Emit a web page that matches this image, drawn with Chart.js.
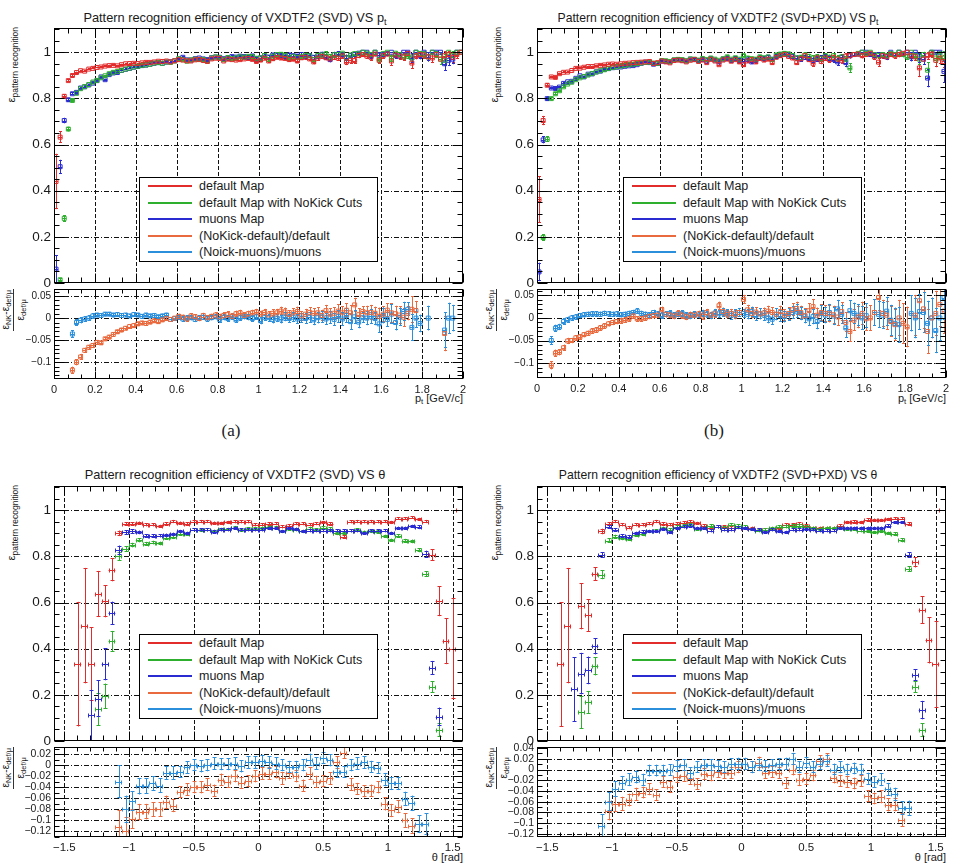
<!DOCTYPE html>
<html>
<head>
<meta charset="utf-8">
<title>VXDTF2 pattern recognition efficiency</title>
<script src="https://cdn.jsdelivr.net/npm/chart.js@4.4.1/dist/chart.umd.min.js"></script>
<style>
  body { margin: 0; background: #fff; }
  #page { position: relative; width: 967px; height: 867px; overflow: hidden; background: #fff;
          font-family: "Liberation Sans", Arial, sans-serif; color: #1a1a1a; }
  canvas { position: absolute; z-index: 1; }
  sub { font-size: 72%; vertical-align: -0.3em; line-height: 0; }
  .title { position: absolute; font-size: 12.5px; line-height: 16px; white-space: nowrap; transform: translateX(-50%); }
  .ytitle { position: absolute; width: 200px; text-align: right; transform-origin: 0 0; transform: rotate(-90deg);
            white-space: nowrap; font-size: 11.5px; line-height: 14px; }
  .ytitle sub { font-size: 8.5px; }
  .rtitle { position: absolute; width: 120px; text-align: right; transform-origin: 0 0; transform: rotate(-90deg);
            white-space: nowrap; font-size: 10px; line-height: 1; }
  .rtitle sub { font-size: 7.5px; }
  .frac { display: inline-flex; flex-direction: column; align-items: center; vertical-align: top; }
  .frac .num { border-bottom: 1px solid #333; padding: 0 1px 2px; }
  .frac .den { padding-top: 2px; }
  .xtitle { position: absolute; font-size: 11px; line-height: 14px; white-space: nowrap; transform: translateX(-100%); }
  .caption { position: absolute; font-family: "Liberation Serif", "DejaVu Serif", serif; font-size: 17px;
             transform: translateX(-50%); }
  .legend { position: absolute; border: 1px solid #000; background: #fff; box-sizing: border-box; z-index: 5; }
  .legend .swatch { position: absolute; left: 8px; width: 44px; height: 2px; }
  .legend .lbl { position: absolute; left: 59px; line-height: 16px; font-size: 12.5px; white-space: nowrap; }
</style>
</head>
<body>
<div id="page"></div>
<script>
// Legend labels and colours
const seriesLabels = ['default Map', 'default Map with NoKick Cuts', 'muons Map',
                      '(NoKick-default)/default', '(Noick-muons)/muons'];
const seriesColors = ['#e22b2b', '#2eb02e', '#2b2bd2', '#e96a3e', '#2b8fdc'];

// Binning (histogram definitions)
const ptRange = [0, 2], ptBins = 100;
const thRange = [-1.58, 1.58], thBins = 60;

// ---------- p_t, SVD only ----------
const ptRedSvd = [
  0.44, 0.632, 0.809, 0.877, 0.899, 0.912, 0.92, 0.918, 0.927, 0.93,
  0.934, 0.936, 0.94, 0.942, 0.943, 0.941, 0.946, 0.95, 0.951, 0.952,
  0.951, 0.954, 0.956, 0.956, 0.958, 0.961, 0.96, 0.962, 0.958, 0.963,
  0.968, 0.966, 0.963, 0.962, 0.967, 0.969, 0.964, 0.96, 0.971, 0.974,
  0.973, 0.962, 0.97, 0.968, 0.966, 0.968, 0.971, 0.973, 0.969, 0.96,
  0.966, 0.974, 0.962, 0.972, 0.978, 0.975, 0.973, 0.968, 0.97, 0.962,
  0.976, 0.978, 0.971, 0.958, 0.974, 0.982, 0.976, 0.971, 0.978, 0.974,
  0.984, 0.958, 0.965, 0.964, 0.986, 0.99, 0.983, 0.978, 0.992, 0.965,
  0.985, 0.992, 0.962, 0.988, 0.983, 0.979, 0.995, 0.953, 0.985, 0.99,
  0.988, 0.98, 0.975, 0.99, 0.97, 0.985, 0.99, 0.978, 0.99, 1.0
];
const ptRedSvdErr = [
  0.12, 0.025, 0.009, 0.006, 0.005, 0.004, 0.004, 0.004, 0.004, 0.004,
  0.004, 0.004, 0.004, 0.004, 0.004, 0.004, 0.004, 0.004, 0.004, 0.004,
  0.004, 0.004, 0.004, 0.004, 0.004, 0.004, 0.004, 0.004, 0.004, 0.004,
  0.004, 0.004, 0.005, 0.005, 0.005, 0.005, 0.005, 0.005, 0.005, 0.005,
  0.005, 0.006, 0.006, 0.006, 0.006, 0.006, 0.006, 0.006, 0.007, 0.007,
  0.007, 0.007, 0.008, 0.008, 0.008, 0.008, 0.008, 0.009, 0.009, 0.009,
  0.009, 0.01, 0.01, 0.01, 0.011, 0.011, 0.011, 0.012, 0.012, 0.012,
  0.013, 0.014, 0.015, 0.014, 0.012, 0.01, 0.012, 0.014, 0.01, 0.016,
  0.013, 0.01, 0.02, 0.014, 0.015, 0.016, 0.01, 0.025, 0.016, 0.014,
  0.016, 0.02, 0.022, 0.015, 0.024, 0.02, 0.016, 0.025, 0.018, 0
];
const ptGreenSvd = [
  null, 0.014, 0.28, 0.667, 0.791, 0.822, 0.842, 0.851, 0.86, 0.871,
  0.878, 0.889, 0.898, 0.907, 0.913, 0.917, 0.922, 0.927, 0.931, 0.936,
  0.939, 0.943, 0.945, 0.948, 0.953, 0.955, 0.952, 0.958, 0.956, 0.962,
  0.972, 0.968, 0.961, 0.967, 0.97, 0.968, 0.969, 0.961, 0.975, 0.98,
  0.976, 0.968, 0.977, 0.972, 0.976, 0.98, 0.978, 0.982, 0.981, 0.974,
  0.975, 0.986, 0.969, 0.983, 0.99, 0.991, 0.987, 0.976, 0.982, 0.977,
  0.981, 0.987, 0.984, 0.968, 0.986, 0.988, 0.993, 0.98, 0.989, 0.99,
  0.996, 0.975, 0.988, 0.994, 0.993, 1.0, 0.996, 0.99, 1.0, 0.97,
  0.994, 1.0, 0.974, 0.996, 0.99, 0.98, 0.983, 0.975, 1.0, 0.995,
  0.99, 0.98, 1.0, 0.99, 0.97, 0.965, 1.0, 0.985, 1.0, 1.0
];
const ptGreenSvdErr = [
  0, 0.008, 0.014, 0.01, 0.007, 0.005, 0.005, 0.005, 0.004, 0.004,
  0.004, 0.004, 0.004, 0.004, 0.004, 0.004, 0.004, 0.004, 0.004, 0.004,
  0.004, 0.004, 0.004, 0.004, 0.004, 0.004, 0.004, 0.004, 0.004, 0.004,
  0.004, 0.004, 0.005, 0.005, 0.005, 0.005, 0.005, 0.005, 0.005, 0.005,
  0.005, 0.006, 0.006, 0.006, 0.006, 0.006, 0.006, 0.006, 0.007, 0.007,
  0.007, 0.007, 0.008, 0.008, 0.008, 0.008, 0.008, 0.009, 0.009, 0.009,
  0.009, 0.01, 0.01, 0.01, 0.011, 0.011, 0.011, 0.012, 0.012, 0.012,
  0.006, 0.014, 0.01, 0.007, 0.008, 0, 0.006, 0.01, 0, 0.018,
  0.008, 0, 0.016, 0.007, 0.01, 0.014, 0.013, 0.018, 0, 0.01,
  0.014, 0.02, 0, 0.016, 0.025, 0.026, 0, 0.02, 0, 0
];
const ptBlueSvd = [
  0.06, 0.504, 0.704, 0.794, 0.82, 0.826, 0.845, 0.85, 0.858, 0.866,
  0.877, 0.893, 0.881, 0.903, 0.91, 0.912, 0.921, 0.926, 0.93, 0.935,
  0.938, 0.942, 0.944, 0.948, 0.952, 0.955, 0.952, 0.957, 0.959, 0.963,
  0.971, 0.978, 0.967, 0.966, 0.972, 0.975, 0.971, 0.968, 0.976, 0.979,
  0.978, 0.972, 0.975, 0.981, 0.979, 0.983, 0.981, 0.978, 0.984, 0.972,
  0.976, 0.985, 0.979, 0.988, 0.99, 0.986, 0.98, 0.988, 0.985, 0.983,
  0.99, 0.982, 0.986, 0.978, 0.984, 0.991, 0.978, 0.968, 0.99, 0.992,
  0.988, 0.975, 0.985, 0.99, 0.996, 1.0, 1.0, 0.984, 1.0, 0.987,
  0.99, 0.994, 1.0, 0.985, 0.984, 1.0, 1.0, 0.975, 1.0, 0.984,
  1.0, 0.98, 1.0, 1.0, 1.0, 0.95, 0.965, 0.97, 1.0, 1.0
];
const ptBlueSvdErr = [
  0.06, 0.03, 0.012, 0.008, 0.006, 0.005, 0.005, 0.005, 0.004, 0.004,
  0.004, 0.004, 0.004, 0.004, 0.004, 0.004, 0.004, 0.004, 0.004, 0.004,
  0.004, 0.004, 0.004, 0.004, 0.004, 0.004, 0.004, 0.004, 0.004, 0.004,
  0.004, 0.004, 0.005, 0.005, 0.005, 0.005, 0.005, 0.005, 0.005, 0.005,
  0.005, 0.006, 0.006, 0.006, 0.006, 0.006, 0.006, 0.006, 0.007, 0.007,
  0.007, 0.007, 0.008, 0.008, 0.008, 0.008, 0.008, 0.009, 0.009, 0.009,
  0.009, 0.01, 0.01, 0.01, 0.011, 0.011, 0.011, 0.012, 0.012, 0.012,
  0.01, 0.015, 0.012, 0.01, 0.006, 0, 0, 0.012, 0, 0.012,
  0.01, 0.008, 0, 0.013, 0.014, 0, 0, 0.02, 0, 0.015,
  0, 0.02, 0, 0, 0, 0.03, 0.025, 0.022, 0, 0
];
const ptOrangeSvd = [
  null, null, null, null, -0.118, -0.1, -0.088, -0.073, -0.066, -0.062,
  -0.055, -0.056, -0.047, -0.043, -0.037, -0.031, -0.027, -0.023, -0.019, -0.017,
  -0.013, -0.011, -0.012, -0.009, -0.006, -0.008, -0.004, -0.001, -0.003, 0.0,
  0.004, 0.002, -0.002, 0.005, 0.003, -0.001, 0.006, 0.001, 0.004, 0.007,
  0.003, 0.006, 0.008, 0.004, 0.01, 0.012, 0.006, 0.01, 0.012, 0.014,
  0.009, 0.013, 0.007, 0.011, 0.012, 0.016, 0.014, 0.008, 0.012, 0.015,
  0.005, 0.009, 0.013, 0.011, 0.012, 0.006, 0.017, 0.009, 0.011, 0.016,
  0.012, 0.018, 0.012, 0.03, 0.008, 0.015, 0.012, 0.013, 0.011, 0.004,
  0.009, 0.018, 0.012, 0.01, 0.007, 0.002, 0.011, 0.02, 0.017, null,
  null, null, null, null, null, -0.035, null, null, null, null
];
const ptSkySvd = [
  null, null, null, null, -0.036, -0.01, -0.005, -0.002, 0.0, 0.005,
  0.007, 0.006, 0.009, 0.009, 0.007, 0.008, 0.006, 0.007, 0.005, 0.008,
  0.007, 0.004, 0.007, 0.005, 0.006, 0.003, 0.005, 0.007, -0.003, -0.001,
  0.002, -0.002, 0.0, 0.001, -0.003, 0.0, 0.002, -0.002, 0.001, 0.003,
  -0.003, 0.002, -0.001, 0.003, -0.004, 0.001, 0.004, 0.002, -0.001, 0.003,
  -0.006, 0.002, 0.001, -0.003, 0.0, -0.002, 0.003, -0.001, 0.002, -0.002,
  0.0, -0.001, 0.002, -0.004, 0.001, 0.003, -0.002, 0.001, -0.003, 0.004,
  -0.002, 0.006, -0.008, 0.003, -0.009, 0.001, 0.0, 0.004, -0.001, -0.013,
  0.006, -0.003, 0.009, -0.01, 0.002, 0.015, 0.02, -0.021, 0.0, -0.012,
  null, 0.0, null, null, null, -0.027, 0.0, 0.0, null, null
];
const ptRatioSvdErr = [
  0, 0, 0, 0, 0.008, 0.007, 0.007, 0.006, 0.006, 0.006,
  0.005, 0.005, 0.005, 0.005, 0.005, 0.005, 0.005, 0.005, 0.005, 0.005,
  0.005, 0.005, 0.005, 0.005, 0.005, 0.005, 0.005, 0.005, 0.005, 0.005,
  0.006, 0.006, 0.006, 0.006, 0.006, 0.006, 0.006, 0.006, 0.006, 0.006,
  0.007, 0.007, 0.007, 0.007, 0.007, 0.007, 0.007, 0.007, 0.007, 0.007,
  0.008, 0.008, 0.009, 0.009, 0.009, 0.01, 0.01, 0.01, 0.011, 0.011,
  0.011, 0.012, 0.012, 0.012, 0.013, 0.013, 0.013, 0.014, 0.014, 0.015,
  0.015, 0.016, 0.018, 0.016, 0.014, 0.012, 0.016, 0.017, 0.015, 0.02,
  0.018, 0.016, 0.022, 0.018, 0.02, 0.022, 0.016, 0.03, 0.022, 0.02,
  0.025, 0.028, 0.03, 0.025, 0.03, 0.04, 0.035, 0.03, 0.03, 0.035
];

// ---------- p_t, SVD+PXD ----------
const ptRedFull = [
  0.362, 0.704, 0.857, 0.893, 0.891, 0.907, 0.913, 0.914, 0.921, 0.93,
  0.931, 0.935, 0.938, 0.938, 0.941, 0.943, 0.945, 0.948, 0.949, 0.948,
  0.95, 0.952, 0.953, 0.955, 0.956, 0.957, 0.958, 0.96, 0.951, 0.955,
  0.962, 0.958, 0.954, 0.964, 0.966, 0.963, 0.958, 0.965, 0.968, 0.96,
  0.966, 0.955, 0.969, 0.962, 0.946, 0.966, 0.97, 0.961, 0.968, 0.958,
  0.946, 0.962, 0.968, 0.958, 0.973, 0.966, 0.97, 0.955, 0.978, 0.985,
  0.99, 0.982, 0.975, 0.955, 0.972, 0.985, 0.968, 0.952, 0.975, 0.96,
  0.975, 0.968, 0.978, 0.97, 0.965, 0.983, 0.985, 0.99, 0.992, 0.985,
  0.99, 0.995, 0.98, 0.957, 0.985, 0.98, 0.99, 0.985, 0.99, 0.995,
  1.0, 0.985, 0.98, 0.932, 0.97, 0.985, 0.99, 0.965, 0.975, 0.96
];
const ptRedFullErr = [
  0.1, 0.02, 0.008, 0.005, 0.005, 0.004, 0.004, 0.004, 0.004, 0.004,
  0.004, 0.004, 0.004, 0.004, 0.004, 0.004, 0.004, 0.004, 0.004, 0.004,
  0.004, 0.004, 0.004, 0.004, 0.004, 0.004, 0.004, 0.004, 0.004, 0.004,
  0.004, 0.004, 0.005, 0.005, 0.005, 0.005, 0.005, 0.005, 0.005, 0.005,
  0.005, 0.006, 0.006, 0.006, 0.006, 0.006, 0.006, 0.006, 0.007, 0.007,
  0.01, 0.007, 0.008, 0.008, 0.008, 0.008, 0.008, 0.009, 0.009, 0.009,
  0.009, 0.01, 0.01, 0.01, 0.011, 0.011, 0.011, 0.015, 0.012, 0.012,
  0.012, 0.013, 0.012, 0.014, 0.015, 0.012, 0.012, 0.01, 0.009, 0.012,
  0.01, 0.008, 0.014, 0.02, 0.013, 0.014, 0.01, 0.013, 0.012, 0.008,
  0, 0.015, 0.018, 0.04, 0.025, 0.018, 0.014, 0.03, 0.025, 0.03
];
const ptGreenFull = [
  null, 0.197, 0.623, 0.799, 0.82, 0.833, 0.85, 0.862, 0.87, 0.881,
  0.889, 0.895, 0.901, 0.908, 0.914, 0.92, 0.924, 0.93, 0.934, 0.937,
  0.94, 0.943, 0.946, 0.948, 0.951, 0.953, 0.956, 0.957, 0.953, 0.952,
  0.964, 0.963, 0.96, 0.967, 0.969, 0.968, 0.963, 0.971, 0.97, 0.966,
  0.973, 0.968, 0.975, 0.97, 0.965, 0.972, 0.98, 0.97, 0.976, 0.97,
  0.985, 0.975, 0.972, 0.97, 0.98, 0.976, 0.98, 0.968, 0.988, 0.992,
  0.995, 0.993, 0.985, 0.975, 0.978, 0.988, 0.982, 0.975, 0.98, 0.972,
  0.985, 0.978, 0.985, 0.972, 0.98, 0.97, 0.932, 0.99, 0.995, 1.0,
  0.995, 1.0, 0.99, 0.985, 0.99, 0.985, 0.995, 0.99, 1.0, 0.99,
  0.98, 1.0, 0.985, 0.97, 0.99, 0.922, 1.0, 0.975, 0.985, 0.975
];
const ptGreenFullErr = [
  0, 0.015, 0.012, 0.008, 0.006, 0.005, 0.005, 0.004, 0.004, 0.004,
  0.004, 0.004, 0.004, 0.004, 0.004, 0.004, 0.004, 0.004, 0.004, 0.004,
  0.004, 0.004, 0.004, 0.004, 0.004, 0.004, 0.004, 0.004, 0.004, 0.004,
  0.004, 0.004, 0.005, 0.005, 0.005, 0.005, 0.005, 0.005, 0.005, 0.005,
  0.005, 0.006, 0.006, 0.006, 0.006, 0.006, 0.006, 0.006, 0.007, 0.007,
  0.007, 0.007, 0.008, 0.008, 0.008, 0.008, 0.008, 0.009, 0.009, 0.009,
  0.009, 0.01, 0.01, 0.01, 0.011, 0.011, 0.011, 0.012, 0.012, 0.012,
  0.011, 0.012, 0.011, 0.014, 0.012, 0.014, 0.02, 0.01, 0.008, 0,
  0.008, 0, 0.01, 0.012, 0.01, 0.012, 0.008, 0.01, 0, 0.01,
  0.014, 0, 0.016, 0.024, 0.012, 0.035, 0, 0.022, 0.02, 0.03
];
const ptBlueFull = [
  0.048, 0.62, 0.799, 0.845, 0.843, 0.849, 0.865, 0.872, 0.874, 0.887,
  0.898, 0.893, 0.905, 0.906, 0.915, 0.918, 0.926, 0.929, 0.933, 0.935,
  0.936, 0.939, 0.941, 0.942, 0.946, 0.952, 0.957, 0.955, 0.948, 0.951,
  0.961, 0.96, 0.958, 0.966, 0.968, 0.965, 0.962, 0.97, 0.968, 0.964,
  0.969, 0.962, 0.972, 0.966, 0.958, 0.97, 0.973, 0.965, 0.972, 0.966,
  0.962, 0.97, 0.958, 0.966, 0.975, 0.972, 0.978, 0.97, 0.982, 0.988,
  0.992, 0.988, 0.982, 0.975, 0.97, 0.978, 0.972, 0.965, 0.97, 0.975,
  0.98, 0.972, 0.968, 0.958, 0.978, 0.955, 0.985, 0.99, 0.992, 1.0,
  1.0, 0.99, 0.985, 0.99, 0.985, 0.98, 1.0, 0.99, 1.0, 0.99,
  1.0, 0.98, 1.0, 0.975, 0.97, 0.888, 1.0, 1.0, 1.0, 0.917
];
const ptBlueFullErr = [
  0.04, 0.015, 0.009, 0.006, 0.006, 0.005, 0.005, 0.005, 0.004, 0.004,
  0.004, 0.004, 0.004, 0.004, 0.004, 0.004, 0.004, 0.004, 0.004, 0.004,
  0.004, 0.004, 0.004, 0.004, 0.004, 0.004, 0.004, 0.004, 0.004, 0.004,
  0.004, 0.004, 0.005, 0.005, 0.005, 0.005, 0.005, 0.005, 0.005, 0.005,
  0.005, 0.006, 0.006, 0.006, 0.006, 0.006, 0.006, 0.006, 0.007, 0.007,
  0.007, 0.007, 0.008, 0.008, 0.008, 0.008, 0.008, 0.009, 0.009, 0.009,
  0.009, 0.01, 0.01, 0.01, 0.011, 0.011, 0.011, 0.012, 0.012, 0.012,
  0.011, 0.012, 0.013, 0.016, 0.012, 0.02, 0.012, 0.01, 0.009, 0,
  0, 0.01, 0.012, 0.01, 0.012, 0.014, 0, 0.01, 0, 0.012,
  0, 0.02, 0, 0.022, 0.025, 0.04, 0, 0, 0, 0.05
];
const ptOrangeFull = [
  null, null, null, -0.105, -0.078, -0.076, -0.066, -0.051, -0.05, -0.044,
  -0.042, -0.037, -0.034, -0.029, -0.027, -0.022, -0.018, -0.013, -0.01, -0.008,
  -0.007, -0.005, -0.002, 0.004, -0.002, -0.002, 0.0, 0.003, 0.005, 0.006,
  0.018, 0.008, 0.006, 0.004, 0.01, 0.005, 0.002, 0.007, 0.006, 0.009,
  0.004, 0.012, 0.006, 0.009, 0.027, 0.014, 0.008, 0.01, 0.007, 0.012,
  0.041, 0.018, 0.01, 0.013, 0.009, 0.011, 0.015, 0.012, 0.008, 0.014,
  0.006, 0.01, 0.018, 0.021, 0.012, 0.005, 0.016, 0.025, 0.006, 0.012,
  0.01, 0.009, 0.007, 0.002, 0.014, -0.01, -0.03, -0.005, 0.002, 0.01,
  -0.002, 0.0, 0.012, 0.045, 0.01, 0.006, -0.008, -0.015, 0.0, -0.012,
  -0.02, null, 0.006, 0.038, 0.02, -0.03, 0.0, 0.01, 0.03, 0.015
];
const ptSkyFull = [
  null, null, null, -0.05, -0.023, -0.02, -0.008, -0.004, 0.0, 0.002,
  0.005, 0.007, 0.008, 0.009, 0.009, 0.008, 0.01, 0.009, 0.008, 0.009,
  0.007, 0.008, 0.01, 0.012, 0.015, 0.01, 0.008, 0.006, 0.012, 0.009,
  0.005, 0.008, 0.01, 0.006, 0.008, 0.01, 0.005, 0.004, 0.008, 0.006,
  0.01, 0.008, 0.005, 0.011, 0.009, 0.012, 0.01, 0.006, 0.009, 0.012,
  0.01, 0.008, 0.014, 0.005, 0.009, 0.006, 0.0, -0.003, 0.008, 0.005,
  0.003, 0.008, 0.012, 0.015, 0.01, 0.004, -0.002, 0.003, -0.008, 0.01,
  0.006, 0.012, 0.004, 0.02, 0.008, -0.022, 0.016, 0.01, 0.006, 0.0,
  0.005, null, 0.012, 0.008, 0.006, 0.015, -0.005, -0.012, -0.015, null,
  null, 0.01, 0.0, 0.014, 0.012, -0.012, 0.0, -0.028, 0.0, 0.045
];
const ptRatioFullErr = [
  0, 0, 0, 0.009, 0.008, 0.007, 0.007, 0.007, 0.006, 0.006,
  0.006, 0.006, 0.006, 0.006, 0.006, 0.006, 0.006, 0.006, 0.006, 0.006,
  0.006, 0.006, 0.006, 0.006, 0.006, 0.006, 0.006, 0.006, 0.006, 0.006,
  0.007, 0.007, 0.007, 0.007, 0.007, 0.007, 0.007, 0.007, 0.007, 0.007,
  0.008, 0.008, 0.008, 0.009, 0.009, 0.009, 0.009, 0.01, 0.01, 0.01,
  0.01, 0.011, 0.011, 0.011, 0.012, 0.012, 0.012, 0.012, 0.013, 0.013,
  0.013, 0.014, 0.014, 0.015, 0.015, 0.016, 0.016, 0.017, 0.017, 0.018,
  0.018, 0.019, 0.02, 0.02, 0.021, 0.022, 0.023, 0.024, 0.025, 0.026,
  0.027, 0.028, 0.029, 0.03, 0.03, 0.032, 0.034, 0.035, 0.04, 0.045,
  0.045, 0.04, 0.045, 0.04, 0.045, 0.05, 0.045, 0.05, 0.05, 0.05
];

// ---------- theta, SVD only ----------
const thRedSvd = [
  null, null, null, 0.333, 0.5, 0.333, 0.637, 0.606, 0.742, 0.9,
  0.94, 0.94, 0.944, 0.937, 0.937, 0.93, 0.94, 0.951, 0.944, 0.94,
  0.951, 0.951, 0.951, 0.944, 0.943, 0.947, 0.95, 0.95, 0.95, 0.937,
  0.937, 0.94, 0.942, 0.928, 0.932, 0.942, 0.942, 0.937, 0.942, 0.947,
  0.94, 0.9, 0.885, 0.95, 0.951, 0.95, 0.951, 0.95, 0.951, 0.947,
  0.964, 0.964, 0.968, 0.961, 0.951, 0.807, 0.606, 0.433, 0.4, 1.0
];
const thRedSvdErr = [
  0, 0, 0, 0.27, 0.25, 0.16, 0.1, 0.07, 0.05, 0.012,
  0.008, 0.007, 0.007, 0.007, 0.007, 0.007, 0.007, 0.007, 0.007, 0.007,
  0.007, 0.007, 0.007, 0.007, 0.007, 0.007, 0.007, 0.007, 0.007, 0.007,
  0.007, 0.007, 0.007, 0.007, 0.007, 0.007, 0.007, 0.007, 0.007, 0.007,
  0.007, 0.008, 0.008, 0.007, 0.007, 0.007, 0.007, 0.007, 0.007, 0.007,
  0.006, 0.006, 0.006, 0.006, 0.007, 0.025, 0.065, 0.1, 0.22, 0
];
const thGreenSvd = [
  null, null, null, null, null, null, 0.137, 0.194, 0.432, 0.8,
  0.832, 0.849, 0.87, 0.855, 0.86, 0.856, 0.88, 0.883, 0.897, 0.896,
  0.915, 0.913, 0.915, 0.909, 0.917, 0.917, 0.925, 0.913, 0.92, 0.92,
  0.922, 0.926, 0.925, 0.908, 0.918, 0.915, 0.908, 0.92, 0.914, 0.923,
  0.919, 0.9, 0.9, 0.911, 0.914, 0.905, 0.908, 0.906, 0.887, 0.87,
  0.889, 0.868, 0.865, 0.827, 0.724, 0.235, 0.047, null, null, null
];
const thGreenSvdErr = [
  0, 0, 0, 0, 0, 0, 0.07, 0.055, 0.045, 0.02,
  0.012, 0.01, 0.009, 0.008, 0.008, 0.008, 0.008, 0.008, 0.007, 0.007,
  0.007, 0.007, 0.007, 0.007, 0.007, 0.007, 0.007, 0.007, 0.007, 0.007,
  0.007, 0.007, 0.007, 0.007, 0.007, 0.007, 0.007, 0.007, 0.007, 0.007,
  0.007, 0.007, 0.007, 0.007, 0.007, 0.007, 0.007, 0.007, 0.007, 0.007,
  0.008, 0.008, 0.008, 0.009, 0.012, 0.025, 0.03, 0, 0, 0
];
const thBlueSvd = [
  null, null, null, null, null, 0.112, 0.184, 0.333, 0.554, 0.827,
  0.904, 0.908, 0.904, 0.889, 0.889, 0.889, 0.892, 0.896, 0.908, 0.9,
  0.915, 0.915, 0.915, 0.906, 0.915, 0.915, 0.922, 0.915, 0.915, 0.915,
  0.915, 0.921, 0.922, 0.908, 0.921, 0.918, 0.908, 0.911, 0.911, 0.911,
  0.911, 0.911, 0.911, 0.911, 0.911, 0.9, 0.911, 0.911, 0.911, 0.9,
  0.922, 0.922, 0.93, 0.926, 0.81, 0.317, 0.105, null, null, null
];
const thBlueSvdErr = [
  0, 0, 0, 0, 0, 0.11, 0.08, 0.07, 0.05, 0.02,
  0.01, 0.009, 0.008, 0.008, 0.008, 0.007, 0.007, 0.007, 0.007, 0.007,
  0.007, 0.007, 0.007, 0.007, 0.007, 0.007, 0.007, 0.007, 0.007, 0.007,
  0.007, 0.007, 0.007, 0.007, 0.007, 0.007, 0.007, 0.007, 0.007, 0.007,
  0.007, 0.007, 0.007, 0.007, 0.007, 0.007, 0.007, 0.007, 0.007, 0.007,
  0.007, 0.007, 0.007, 0.008, 0.015, 0.03, 0.04, 0, 0, 0
];
const thOrangeSvd = [
  null, null, null, null, null, null, null, null, null, -0.111,
  -0.119, -0.097, -0.085, -0.084, -0.08, -0.08, -0.067, -0.073, -0.049, -0.044,
  -0.04, -0.04, -0.035, -0.046, -0.026, -0.03, -0.02, -0.032, -0.029, -0.02,
  -0.015, -0.015, -0.013, -0.024, -0.014, -0.02, -0.037, -0.015, -0.03, -0.029,
  -0.024, 0.005, 0.023, -0.035, -0.043, -0.047, -0.046, -0.04, -0.07, -0.082,
  -0.075, -0.1, -0.11, null, null, null, null, null, null, null
];
const thSkySvd = [
  null, null, null, null, null, null, null, null, null, -0.03,
  -0.08, -0.065, -0.038, -0.038, -0.033, -0.037, -0.014, -0.014, -0.012, -0.004,
  0.0, -0.002, 0.0, 0.003, 0.002, 0.002, 0.003, -0.002, 0.005, 0.005,
  0.008, 0.005, 0.003, 0.0, -0.003, -0.003, 0.0, 0.01, 0.003, 0.013,
  0.009, -0.012, -0.012, 0.0, 0.003, 0.005, -0.003, -0.005, -0.026, -0.033,
  -0.033, -0.061, -0.069, -0.107, -0.107, null, null, null, null, null
];
const thRatioSvdErr = [
  0, 0, 0, 0, 0, 0, 0, 0, 0, 0.03,
  0.025, 0.018, 0.015, 0.014, 0.013, 0.013, 0.012, 0.012, 0.011, 0.011,
  0.011, 0.011, 0.011, 0.011, 0.011, 0.011, 0.011, 0.011, 0.011, 0.011,
  0.011, 0.011, 0.011, 0.011, 0.011, 0.011, 0.011, 0.011, 0.011, 0.011,
  0.011, 0.011, 0.011, 0.011, 0.011, 0.011, 0.011, 0.011, 0.012, 0.012,
  0.012, 0.013, 0.014, 0.016, 0.02, 0, 0, 0, 0, 0
];

// ---------- theta, SVD+PXD ----------
const thRedFull = [
  null, null, null, 0.332, 0.5, null, 0.584, 0.544, 0.724, 0.908,
  0.94, 0.951, 0.937, 0.925, 0.937, 0.937, 0.942, 0.951, 0.94, 0.937,
  0.942, 0.946, 0.949, 0.943, 0.932, 0.925, 0.928, 0.928, 0.925, 0.925,
  0.922, 0.922, 0.914, 0.914, 0.918, 0.922, 0.937, 0.937, 0.942, 0.932,
  0.922, 0.922, 0.922, 0.922, 0.932, 0.947, 0.949, 0.947, 0.958, 0.957,
  0.957, 0.961, 0.964, 0.964, 0.94, 0.774, 0.568, 0.436, 0.332, 1.0
];
const thRedFullErr = [
  0, 0, 0, 0.27, 0.25, 0, 0.1, 0.07, 0.03, 0.012,
  0.008, 0.007, 0.007, 0.007, 0.007, 0.007, 0.007, 0.007, 0.007, 0.007,
  0.007, 0.007, 0.007, 0.007, 0.007, 0.007, 0.007, 0.007, 0.007, 0.007,
  0.007, 0.007, 0.007, 0.007, 0.007, 0.007, 0.007, 0.007, 0.007, 0.007,
  0.007, 0.007, 0.007, 0.007, 0.007, 0.007, 0.007, 0.007, 0.007, 0.007,
  0.006, 0.006, 0.006, 0.006, 0.008, 0.022, 0.06, 0.1, 0.19, 0
];
const thGreenFull = [
  null, null, null, null, null, null, 0.124, 0.167, 0.324, 0.721,
  0.868, 0.885, 0.878, 0.875, 0.894, 0.896, 0.908, 0.911, 0.922, 0.915,
  0.928, 0.932, 0.937, 0.918, 0.922, 0.932, 0.928, 0.925, 0.937, 0.932,
  0.928, 0.918, 0.911, 0.914, 0.922, 0.928, 0.928, 0.932, 0.932, 0.928,
  0.922, 0.918, 0.922, 0.922, 0.922, 0.918, 0.918, 0.911, 0.908, 0.904,
  0.908, 0.9, 0.896, 0.87, 0.745, 0.235, 0.047, null, null, null
];
const thGreenFullErr = [
  0, 0, 0, 0, 0, 0, 0.07, 0.05, 0.04, 0.02,
  0.01, 0.009, 0.008, 0.008, 0.008, 0.008, 0.007, 0.007, 0.007, 0.007,
  0.007, 0.007, 0.007, 0.007, 0.007, 0.007, 0.007, 0.007, 0.007, 0.007,
  0.007, 0.007, 0.007, 0.007, 0.007, 0.007, 0.007, 0.007, 0.007, 0.007,
  0.007, 0.007, 0.007, 0.007, 0.007, 0.007, 0.007, 0.007, 0.007, 0.007,
  0.007, 0.007, 0.008, 0.009, 0.012, 0.025, 0.03, 0, 0, 0
];
const thBlueFull = [
  null, null, null, null, null, 0.224, 0.292, 0.306, 0.41, 0.806,
  0.928, 0.915, 0.889, 0.885, 0.9, 0.906, 0.908, 0.908, 0.918, 0.904,
  0.922, 0.928, 0.932, 0.922, 0.922, 0.911, 0.928, 0.915, 0.915, 0.925,
  0.922, 0.918, 0.915, 0.904, 0.915, 0.908, 0.904, 0.915, 0.915, 0.918,
  0.915, 0.911, 0.911, 0.911, 0.922, 0.922, 0.922, 0.922, 0.922, 0.922,
  0.922, 0.932, 0.947, 0.947, 0.806, 0.285, 0.134, null, null, null
];
const thBlueFullErr = [
  0, 0, 0, 0, 0, 0.14, 0.09, 0.06, 0.035, 0.013,
  0.008, 0.008, 0.008, 0.008, 0.007, 0.007, 0.007, 0.007, 0.007, 0.007,
  0.007, 0.007, 0.007, 0.007, 0.007, 0.007, 0.007, 0.007, 0.007, 0.007,
  0.007, 0.007, 0.007, 0.007, 0.007, 0.007, 0.007, 0.007, 0.007, 0.007,
  0.007, 0.007, 0.007, 0.007, 0.007, 0.007, 0.007, 0.007, 0.007, 0.007,
  0.007, 0.007, 0.006, 0.006, 0.012, 0.025, 0.04, 0, 0, 0
];
const thOrangeFull = [
  null, null, null, null, null, null, null, null, null, null,
  -0.077, -0.064, -0.064, -0.057, -0.046, -0.043, -0.037, -0.048, -0.023, -0.033,
  -0.014, -0.012, -0.017, -0.027, -0.009, -0.011, -0.004, -0.006, -0.006, 0.004,
  0.01, 0.005, 0.013, -0.006, -0.004, -0.006, -0.025, 0.0, -0.02, -0.017,
  -0.011, 0.016, 0.019, -0.015, -0.021, -0.023, -0.026, -0.021, -0.05, -0.054,
  -0.051, -0.066, -0.066, -0.094, null, null, null, null, null, null
];
const thSkyFull = [
  null, null, null, null, null, null, null, null, null, -0.105,
  -0.06, -0.037, -0.025, -0.019, -0.014, -0.019, -0.002, -0.002, -0.002, -0.001,
  0.006, 0.008, -0.007, 0.005, 0.008, 0.008, 0.006, 0.004, 0.01, 0.011,
  0.011, 0.004, 0.008, 0.006, 0.008, 0.01, 0.011, 0.02, 0.004, 0.013,
  0.004, 0.011, 0.016, 0.0, 0.004, 0.0, 0.002, 0.0, -0.017, -0.023,
  -0.019, -0.037, -0.046, -0.072, -0.072, null, null, null, null, null
];
const thRatioFullErr = [
  0, 0, 0, 0, 0, 0, 0, 0, 0, 0.022,
  0.018, 0.015, 0.013, 0.012, 0.012, 0.011, 0.011, 0.011, 0.011, 0.011,
  0.011, 0.011, 0.011, 0.011, 0.011, 0.011, 0.011, 0.011, 0.011, 0.011,
  0.011, 0.011, 0.011, 0.011, 0.011, 0.011, 0.011, 0.011, 0.011, 0.011,
  0.011, 0.011, 0.011, 0.011, 0.011, 0.011, 0.011, 0.011, 0.011, 0.011,
  0.012, 0.012, 0.012, 0.013, 0.014, 0, 0, 0, 0, 0
];

// Bin centres from the histogram definition
function binCenters(range, n) {
  const w = (range[1] - range[0]) / n;
  return Array.from({ length: n }, (_, i) => range[0] + (i + 0.5) * w);
}
const ptCenters = binCenters(ptRange, ptBins);
const thCenters = binCenters(thRange, thBins);

const page = document.getElementById('page');
const fontFamily = '"Liberation Sans", Arial, sans-serif';

function fmtTick(v) {
  return String(Math.round(v * 10000) / 10000).replace('-', '\u2212');
}

// Draws the ROOT-like pad: dashed grid, error bars, frame and inner ticks
function padDecor(cfg) {
  return {
    id: 'padDecor',
    beforeDatasetsDraw(chart) {
      const { ctx, chartArea: a } = chart;
      const xs = chart.scales.x, ys = chart.scales.y;
      ctx.save();
      ctx.beginPath();
      ctx.rect(a.left, a.top, a.right - a.left, a.bottom - a.top);
      ctx.clip();
      ctx.lineWidth = 1;
      ctx.strokeStyle = '#111';
      ctx.setLineDash([4, 2]);
      ctx.beginPath();
      xs.ticks.forEach(t => {
        const px = xs.getPixelForValue(t.value);
        if (px > a.left + 2 && px < a.right - 2) {
          const sx = Math.round(px) + 0.5;
          ctx.moveTo(sx, a.top); ctx.lineTo(sx, a.bottom);
        }
      });
      ctx.stroke();
      ctx.setLineDash([5, 2, 1, 2]);
      ctx.beginPath();
      ys.ticks.forEach(t => {
        const py = ys.getPixelForValue(t.value);
        if (py > a.top + 2 && py < a.bottom - 2) {
          const sy = Math.round(py) + 0.5;
          ctx.moveTo(a.left, sy); ctx.lineTo(a.right, sy);
        }
      });
      ctx.stroke();
      ctx.setLineDash([]);

      chart.data.datasets.forEach(ds => {
        ctx.strokeStyle = ds.borderColor;
        ctx.beginPath();
        ds.data.forEach(d => {
          const sx = Math.round(xs.getPixelForValue(d.x)) + 0.5;
          const sy = Math.round(ys.getPixelForValue(d.y)) + 0.5;
          const x0 = xs.getPixelForValue(d.x - cfg.hw);
          const x1 = xs.getPixelForValue(d.x + cfg.hw);
          ctx.moveTo(x0, sy); ctx.lineTo(x1, sy);
          if (cfg.capX > 0) {
            const cx0 = Math.round(x0) + 0.5, cx1 = Math.round(x1) - 0.5;
            ctx.moveTo(cx0, sy - cfg.capX); ctx.lineTo(cx0, sy + cfg.capX);
            ctx.moveTo(cx1, sy - cfg.capX); ctx.lineTo(cx1, sy + cfg.capX);
          }
          if (d.e > 0) {
            const y0 = ys.getPixelForValue(d.y + d.e);
            const y1 = ys.getPixelForValue(d.y - d.e);
            ctx.moveTo(sx, y0); ctx.lineTo(sx, y1);
            if (cfg.capY > 0) {
              const cy0 = Math.round(y0) + 0.5, cy1 = Math.round(y1) - 0.5;
              ctx.moveTo(sx - cfg.capY, cy0); ctx.lineTo(sx + cfg.capY, cy0);
              ctx.moveTo(sx - cfg.capY, cy1); ctx.lineTo(sx + cfg.capY, cy1);
            }
          }
        });
        ctx.stroke();
      });
      ctx.restore();
    },
    afterDatasetsDraw(chart) {
      const { ctx, chartArea: a } = chart;
      const xs = chart.scales.x, ys = chart.scales.y;
      ctx.save();
      ctx.strokeStyle = '#000';
      ctx.lineWidth = 1;
      ctx.beginPath();
      const L = Math.round(a.left) + 0.5, R = Math.round(a.right) - 0.5;
      const T = Math.round(a.top) + 0.5, B = Math.round(a.bottom) - 0.5;
      // x ticks, top and bottom
      const xStart = Math.ceil(xs.min / cfg.xMinor - 1e-6), xEnd = Math.floor(xs.max / cfg.xMinor + 1e-6);
      for (let k = xStart; k <= xEnd; k++) {
        const v = k * cfg.xMinor;
        const r = v / cfg.xStep;
        const len = Math.abs(r - Math.round(r)) < 1e-4 ? cfg.xMajLen : cfg.xMinLen;
        const px = Math.round(xs.getPixelForValue(v)) + 0.5;
        ctx.moveTo(px, B); ctx.lineTo(px, B - len);
        ctx.moveTo(px, T); ctx.lineTo(px, T + len);
      }
      // y ticks, left and right
      const yStart = Math.ceil(ys.min / cfg.yMinor - 1e-6), yEnd = Math.floor(ys.max / cfg.yMinor + 1e-6);
      for (let k = yStart; k <= yEnd; k++) {
        const v = k * cfg.yMinor;
        const r = v / cfg.yStep;
        const len = Math.abs(r - Math.round(r)) < 1e-4 ? cfg.yMajLen : cfg.yMinLen;
        const py = Math.round(ys.getPixelForValue(v)) + 0.5;
        ctx.moveTo(L, py); ctx.lineTo(L + len, py);
        ctx.moveTo(R, py); ctx.lineTo(R - len, py);
      }
      ctx.stroke();
      ctx.strokeRect(L, T, R - L, B - T);
      ctx.restore();
    }
  };
}

function makePlot(p) {
  const [L, T, R, B] = p.area;
  const yw = 46, xh = p.xLabels ? 20 : 0;
  const padL = 4, padT = 12, padR = 14, padB = p.xLabels ? 4 : 12;
  const cv = document.createElement('canvas');
  cv.width = (R - L) + yw + padL + padR;
  cv.height = (B - T) + padT + xh + padB;
  cv.style.left = (L - yw - padL) + 'px';
  cv.style.top = (T - padT) + 'px';
  page.appendChild(cv);

  const datasets = p.series.map(s => ({
    label: seriesLabels[s.idx],
    data: s.values.map((v, i) => v === null ? null : { x: p.centers[i], y: v, e: s.errors[i] }).filter(Boolean),
    borderColor: seriesColors[s.idx],
    backgroundColor: 'rgba(255,255,255,0)',
    pointStyle: 'rect',
    pointRadius: p.marker ? 2.8 : 0,
    pointBorderWidth: 1,
    showLine: false
  }));

  new Chart(cv.getContext('2d'), {
    type: 'scatter',
    data: { datasets },
    options: {
      responsive: false,
      animation: false,
      devicePixelRatio: 1,
      events: [],
      layout: { padding: { left: padL, top: padT, right: padR, bottom: padB } },
      plugins: { legend: { display: false }, tooltip: { enabled: false } },
      scales: {
        x: {
          type: 'linear', min: p.x.min, max: p.x.max,
          grid: { display: false, drawTicks: false }, border: { display: false },
          ticks: {
            display: p.xLabels, stepSize: p.x.step, includeBounds: false, autoSkip: false,
            maxRotation: 0, padding: 4, color: '#1a1a1a',
            font: { family: fontFamily, size: p.x.font }, callback: fmtTick
          },
          afterFit: s => { s.height = xh; }
        },
        y: {
          type: 'linear', min: p.y.min, max: p.y.max,
          grid: { display: false, drawTicks: false }, border: { display: false },
          ticks: {
            stepSize: p.y.step, includeBounds: false, autoSkip: false, padding: 3, color: '#1a1a1a',
            font: { family: fontFamily, size: p.y.font }, callback: fmtTick
          },
          afterFit: s => { s.width = yw; }
        }
      }
    },
    plugins: [padDecor({
      hw: p.hw, capX: p.capX, capY: p.capY,
      xStep: p.x.step, xMinor: p.x.minor, yStep: p.y.step, yMinor: p.y.minor,
      xMajLen: p.ticks[0], xMinLen: p.ticks[1], yMajLen: p.ticks[2], yMinLen: p.ticks[3]
    })]
  });
}

// Axes
const ptAxis = { min: 0, max: 2, step: 0.2, minor: 0.2 / 3, font: 11 };
const thAxis = { min: -1.58, max: 1.58, step: 0.5, minor: 0.1, font: 11.5 };
const effAxis = { min: 0, max: 1.105, step: 0.2, minor: 0.05, font: 13.5 };
const ratioAxisA = { min: -0.138, max: 0.066, step: 0.05, minor: 0.01, font: 10 };
const ratioAxisB = { min: -0.133, max: 0.064, step: 0.05, minor: 0.01, font: 10 };
const ratioAxisC = { min: -0.13, max: 0.033, step: 0.02, minor: 0.01, font: 10.5 };
const ratioAxisD = { min: -0.126, max: 0.042, step: 0.02, minor: 0.01, font: 10.5 };

const ptHalf = (ptRange[1] - ptRange[0]) / ptBins / 2;
const thHalf = (thRange[1] - thRange[0]) / thBins / 2;

const plots = [
  { area: [54, 28, 463, 283], x: ptAxis, y: effAxis, xLabels: false, centers: ptCenters, hw: ptHalf,
    marker: true, capX: 0, capY: 1.5, ticks: [9, 5, 10, 5],
    series: [{ idx: 0, values: ptRedSvd, errors: ptRedSvdErr }, { idx: 1, values: ptGreenSvd, errors: ptGreenSvdErr },
             { idx: 2, values: ptBlueSvd, errors: ptBlueSvdErr }] },
  { area: [54, 289, 463, 379], x: ptAxis, y: ratioAxisA, xLabels: true, centers: ptCenters, hw: ptHalf,
    marker: true, capX: 0, capY: 1.5, ticks: [7, 4, 10, 5],
    series: [{ idx: 3, values: ptOrangeSvd, errors: ptRatioSvdErr }, { idx: 4, values: ptSkySvd, errors: ptRatioSvdErr }] },
  { area: [537, 28, 946, 283], x: ptAxis, y: effAxis, xLabels: false, centers: ptCenters, hw: ptHalf,
    marker: true, capX: 0, capY: 1.5, ticks: [9, 5, 10, 5],
    series: [{ idx: 0, values: ptRedFull, errors: ptRedFullErr }, { idx: 1, values: ptGreenFull, errors: ptGreenFullErr },
             { idx: 2, values: ptBlueFull, errors: ptBlueFullErr }] },
  { area: [537, 289, 946, 378], x: ptAxis, y: ratioAxisB, xLabels: true, centers: ptCenters, hw: ptHalf,
    marker: true, capX: 0, capY: 1.5, ticks: [7, 4, 10, 5],
    series: [{ idx: 3, values: ptOrangeFull, errors: ptRatioFullErr }, { idx: 4, values: ptSkyFull, errors: ptRatioFullErr }] },
  { area: [54, 486, 463, 741], x: thAxis, y: effAxis, xLabels: false, centers: thCenters, hw: thHalf,
    marker: false, capX: 2, capY: 2, ticks: [9, 5, 10, 5],
    series: [{ idx: 0, values: thRedSvd, errors: thRedSvdErr }, { idx: 1, values: thGreenSvd, errors: thGreenSvdErr },
             { idx: 2, values: thBlueSvd, errors: thBlueSvdErr }] },
  { area: [54, 747, 463, 837], x: thAxis, y: ratioAxisC, xLabels: true, centers: thCenters, hw: thHalf,
    marker: false, capX: 2, capY: 2, ticks: [7, 4, 10, 5],
    series: [{ idx: 3, values: thOrangeSvd, errors: thRatioSvdErr }, { idx: 4, values: thSkySvd, errors: thRatioSvdErr }] },
  { area: [537, 486, 946, 741], x: thAxis, y: effAxis, xLabels: false, centers: thCenters, hw: thHalf,
    marker: false, capX: 2, capY: 2, ticks: [9, 5, 10, 5],
    series: [{ idx: 0, values: thRedFull, errors: thRedFullErr }, { idx: 1, values: thGreenFull, errors: thGreenFullErr },
             { idx: 2, values: thBlueFull, errors: thBlueFullErr }] },
  { area: [537, 747, 946, 837], x: thAxis, y: ratioAxisD, xLabels: true, centers: thCenters, hw: thHalf,
    marker: false, capX: 2, capY: 2, ticks: [7, 4, 10, 5],
    series: [{ idx: 3, values: thOrangeFull, errors: thRatioFullErr }, { idx: 4, values: thSkyFull, errors: thRatioFullErr }] }
];
plots.forEach(makePlot);

// Text: titles, axis titles, captions
function addHtml(cls, html, left, top, extraStyle) {
  const el = document.createElement('div');
  el.className = cls;
  el.innerHTML = html;
  el.style.left = left + 'px';
  el.style.top = top + 'px';
  if (extraStyle) el.style.cssText += extraStyle;
  page.appendChild(el);
  return el;
}

const titles = [
  ['Pattern recognition efficiency of VXDTF2 (SVD) VS p<sub>t</sub>', 235, 10, '12.8px'],
  ['Pattern recognition efficiency of VXDTF2 (SVD+PXD) VS p<sub>t</sub>', 718, 10, '12.2px'],
  ['Pattern recognition efficiency of VXDTF2 (SVD) VS \u03b8', 235, 467, '12.8px'],
  ['Pattern recognition efficiency of VXDTF2 (SVD+PXD) VS \u03b8', 718, 467, '12.2px']
];
titles.forEach(t => addHtml('title', t[0], t[1], t[2], 'font-size:' + t[3]));

const effTitle = '\u03b5<sub>pattern recognition</sub>';
[[4, 27], [487, 27], [4, 485], [487, 485]].forEach(([x, yEnd]) => addHtml('ytitle', effTitle, x, yEnd + 200));

const ratioTitle = '<span class="frac"><span class="num">\u03b5<sub>NK</sub>-\u03b5<sub>def/\u03bc</sub></span>' +
                   '<span class="den">\u03b5<sub>def/\u03bc</sub></span></span>';
[[1, 289], [484, 289], [1, 747], [484, 747]].forEach(([x, yEnd]) => addHtml('rtitle', ratioTitle, x, yEnd + 120));

addHtml('xtitle', 'p<sub>t</sub> [GeV/c]', 463, 391);
addHtml('xtitle', 'p<sub>t</sub> [GeV/c]', 946, 391);
addHtml('xtitle', '\u03b8 [rad]', 463, 850);
addHtml('xtitle', '\u03b8 [rad]', 946, 850);

addHtml('caption', '(a)', 231, 421);
addHtml('caption', '(b)', 714, 421);

// Legends (HTML boxes on top of the pads)
const legendBoxes = [[139, 177], [623, 177], [139, 634], [623, 634]];
const legendRowY = [7, 24, 40, 57, 73];
legendBoxes.forEach(([lx, ly]) => {
  const box = document.createElement('div');
  box.className = 'legend';
  box.style.left = lx + 'px';
  box.style.top = ly + 'px';
  box.style.width = '239px';
  box.style.height = '85px';
  seriesLabels.forEach((lab, i) => {
    const sw = document.createElement('div');
    sw.className = 'swatch';
    sw.style.top = legendRowY[i] + 'px';
    sw.style.backgroundColor = seriesColors[i];
    box.appendChild(sw);
    const tx = document.createElement('div');
    tx.className = 'lbl';
    tx.style.top = (legendRowY[i] - 7) + 'px';
    tx.textContent = lab;
    box.appendChild(tx);
  });
  page.appendChild(box);
});
</script>
</body>
</html>
